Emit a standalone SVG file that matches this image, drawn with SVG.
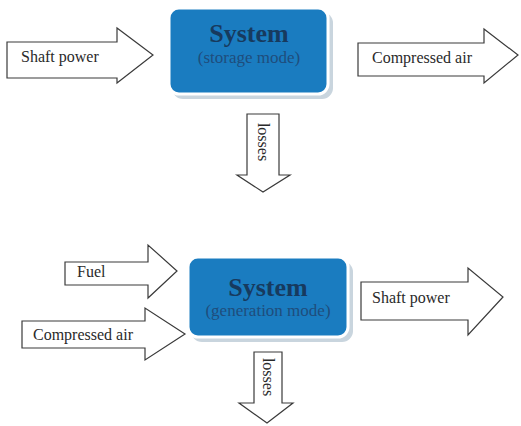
<svg xmlns="http://www.w3.org/2000/svg" width="521" height="426" viewBox="0 0 521 426">
<style>
.arr{fill:#fff;stroke:#3a3a3a;stroke-width:1.2;stroke-linejoin:miter}
.lbl{font-family:"Liberation Serif",serif;font-size:16px;fill:#2a2a2a}
.box{fill:#1a7cc0;stroke:#fff;stroke-width:3}
.shadow{fill:#c9d5de}
.title{font-family:"Liberation Serif",serif;font-size:26px;font-weight:bold;fill:#173a5e;text-anchor:middle}
.sub{font-family:"Liberation Serif",serif;font-size:17px;fill:#1f4d7c;text-anchor:middle}
</style>
<rect width="521" height="426" fill="#fff"/>
<g id="connectors">
  <g id="shaft-power-in">
    <polygon class="arr" points="7,42 117,42 117,28 153,55 117,83 117,78 7,78"/>
    <text class="lbl" x="21" y="62">Shaft power</text>
  </g>
  <g id="compressed-air-out">
    <polygon class="arr" points="358,43 484,43 484,29 518,55 484,83 484,76 358,76"/>
    <text class="lbl" x="372" y="63">Compressed air</text>
  </g>
  <g id="losses-top">
    <polygon class="arr" points="247,114 279,114 279,175 290,175 263,192 237,175 247,175"/>
    <text class="lbl" x="263" y="142" text-anchor="middle" dominant-baseline="central" transform="rotate(90 263 142)">losses</text>
  </g>
  <g id="fuel-in">
    <polygon class="arr" points="65,262 148,262 148,245 177,271 148,298 148,285 65,285"/>
    <text class="lbl" x="77" y="277">Fuel</text>
  </g>
  <g id="compressed-air-in">
    <polygon class="arr" points="22,321 145,321 145,308 185,334 145,360 145,348 22,348"/>
    <text class="lbl" x="33" y="340">Compressed air</text>
  </g>
  <g id="shaft-power-out">
    <polygon class="arr" points="361,282 468,282 468,268 503,297 468,335 468,320 361,320"/>
    <text class="lbl" x="372" y="303">Shaft power</text>
  </g>
  <g id="losses-bottom">
    <polygon class="arr" points="254,352 282,352 282,403 293,403 267,423 239,403 254,403"/>
    <text class="lbl" x="268" y="377" text-anchor="middle" dominant-baseline="central" transform="rotate(90 268 377)">losses</text>
  </g>
</g>
<g id="system-storage">
  <rect class="shadow" x="172" y="12" width="161" height="87" rx="11"/>
  <rect class="box" x="169" y="8" width="159" height="86" rx="10"/>
  <text class="title" x="249" y="42">System</text>
  <text class="sub" x="249" y="63">(storage mode)</text>
</g>
<g id="system-generation">
  <rect class="shadow" x="191" y="261" width="162" height="81" rx="11"/>
  <rect class="box" x="188" y="257" width="160" height="80" rx="10"/>
  <text class="title" x="268" y="296">System</text>
  <text class="sub" x="268" y="316">(generation mode)</text>
</g>
</svg>
